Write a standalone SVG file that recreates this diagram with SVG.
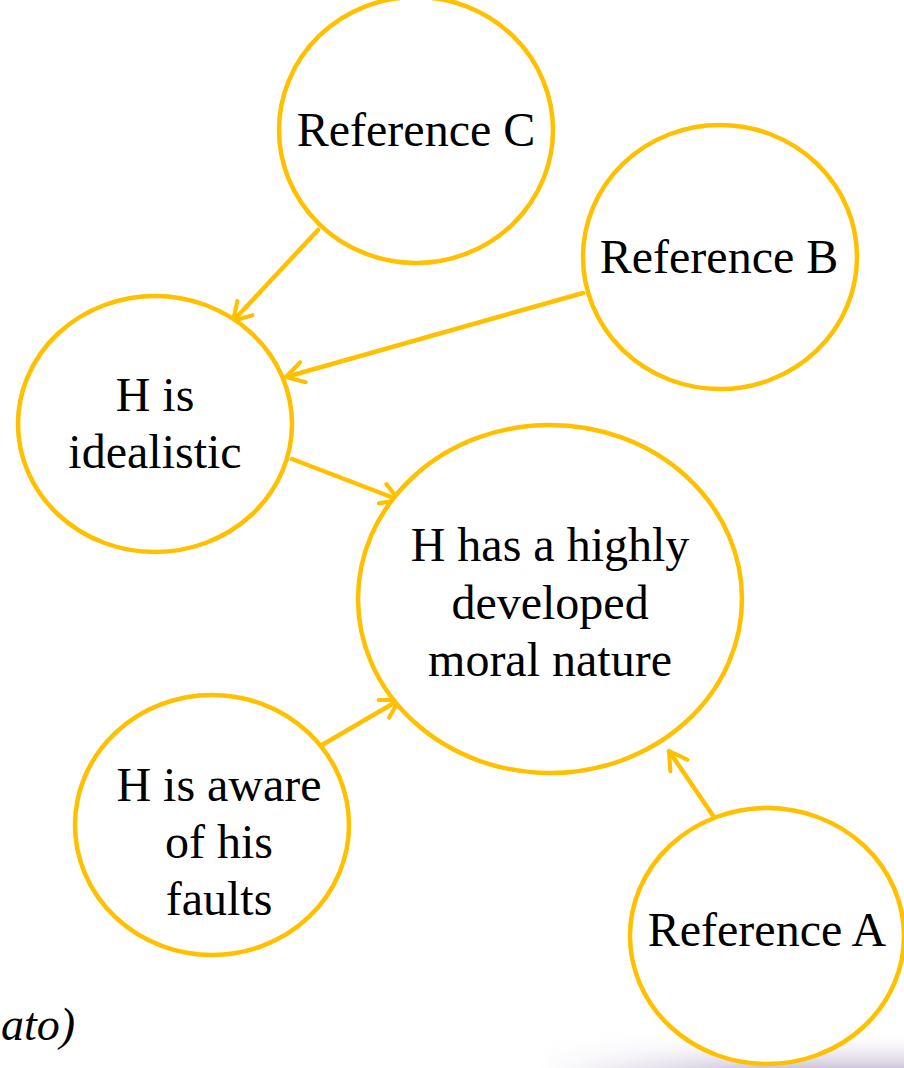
<svg xmlns="http://www.w3.org/2000/svg" width="904" height="1068" viewBox="0 0 904 1068">
<defs>
<linearGradient id="shade" x1="0" y1="0" x2="0" y2="1">
<stop offset="0" stop-color="#ffffff" stop-opacity="0"/>
<stop offset="1" stop-color="#cfc6dc"/>
</linearGradient>
<linearGradient id="shadeH" x1="0" y1="0" x2="1" y2="0">
<stop offset="0" stop-color="#ffffff" stop-opacity="1"/>
<stop offset="1" stop-color="#ffffff" stop-opacity="0"/>
</linearGradient>
<marker id="arr" viewBox="0 0 12 12" refX="10" refY="6" markerWidth="5.5" markerHeight="5.5" orient="auto" markerUnits="strokeWidth">
<path d="M1.5,1 L10,6 L1.5,11" fill="none" stroke="#FFC000" stroke-width="2" stroke-linecap="round" stroke-linejoin="round"/>
</marker>
<style>
.node ellipse{fill:#ffffff;stroke:#FFC000;stroke-width:4.5}
.node text{font-family:"Liberation Serif","Times New Roman",serif;font-size:48px;fill:#000;text-anchor:middle}
.conn line{stroke:#FFC000;stroke-width:4.5;stroke-linecap:round;marker-end:url(#arr)}
.note{font-family:"Liberation Serif",serif;font-style:italic;font-size:46px;fill:#000}
</style>
</defs>
<rect width="904" height="1068" fill="#ffffff"/>
<rect x="540" y="1030" width="364" height="38" fill="url(#shade)"/>
<rect x="540" y="1030" width="220" height="38" fill="url(#shadeH)"/>
<text class="note" x="1" y="1040">ato)</text>
<g id="connectors" class="conn">
<line x1="318" y1="230" x2="233" y2="321"/>
<line x1="583" y1="293" x2="286" y2="377"/>
<line x1="292" y1="459" x2="399" y2="500"/>
<line x1="322" y1="745" x2="399" y2="700"/>
<line x1="718" y1="823" x2="669" y2="751"/>
</g>
<g id="refC" class="node">
<ellipse cx="416" cy="130" rx="137" ry="133"/>
<text x="416" y="146">Reference C</text>
</g>
<g id="refB" class="node">
<ellipse cx="720" cy="257" rx="137" ry="132"/>
<text x="719" y="273">Reference B</text>
</g>
<g id="idealistic" class="node">
<ellipse cx="155" cy="424" rx="137" ry="128"/>
<text x="155" y="411">H is</text>
<text x="155" y="468">idealistic</text>
</g>
<g id="moral" class="node">
<ellipse cx="550" cy="599" rx="192" ry="174"/>
<text x="550" y="561">H has a highly</text>
<text x="550" y="619">developed</text>
<text x="550" y="676">moral nature</text>
</g>
<g id="aware" class="node">
<ellipse cx="212" cy="825" rx="137" ry="130"/>
<text x="219" y="801">H is aware</text>
<text x="219" y="858">of his</text>
<text x="219" y="915">faults</text>
</g>
<g id="refA" class="node">
<ellipse cx="767" cy="936" rx="137" ry="128"/>
<text x="767" y="946">Reference A</text>
</g>
</svg>
